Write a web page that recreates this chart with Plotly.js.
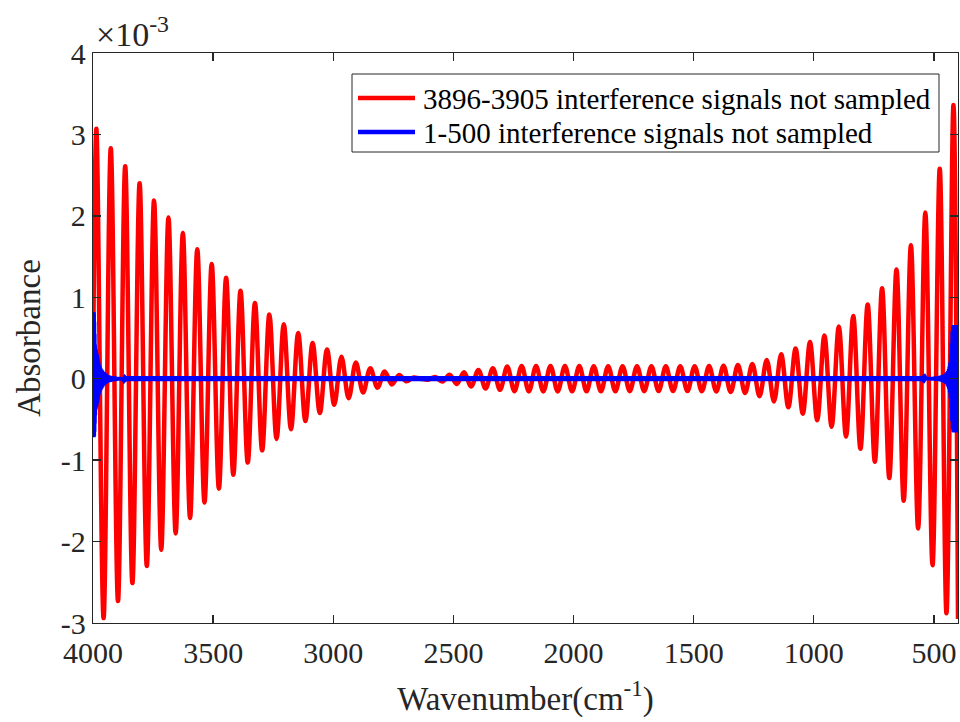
<!DOCTYPE html>
<html>
<head>
<meta charset="utf-8">
<script src="https://cdn.plot.ly/plotly-3.0.1.min.js"></script>
<style>html,body{margin:0;padding:0;background:#fff;}#chart{width:960px;height:722px;}</style>
</head>
<body>
<div id="chart"></div>
<script>
// Red series: extrema (wavenumber, absorbance x1e-3)
const redWavenumber = [4000, 3986, 3956, 3926, 3896, 3866, 3836, 3806, 3776, 3746, 3716, 3686, 3656, 3626, 3596, 3566, 3536, 3506, 3476, 3446, 3416, 3386, 3356, 3326, 3296, 3266, 3236, 3206, 3176, 3146, 3116, 3086, 3056, 3026, 2996, 2966, 2936, 2906, 2876, 2846, 2816, 2786, 2756, 2726, 2696, 2666, 2636, 2606, 2576, 2546, 2516, 2486, 2456, 2426, 2396, 2366, 2336, 2306, 2276, 2246, 2216, 2186, 2156, 2126, 2096, 2066, 2036, 2006, 1976, 1946, 1916, 1886, 1856, 1826, 1796, 1766, 1736, 1706, 1676, 1646, 1616, 1586, 1556, 1526, 1496, 1466, 1436, 1406, 1376, 1346, 1316, 1286, 1256, 1226, 1196, 1166, 1136, 1106, 1076, 1046, 1016, 986, 956, 926, 896, 866, 836, 806, 776, 746, 716, 686, 656, 626, 596, 566, 536, 506, 476, 448, 419, 400];
const redAbsorbance = [0.0, 3.07, -2.94, 2.83, -2.73, 2.61, -2.51, 2.40, -2.30, 2.19, -2.10, 1.98, -1.90, 1.79, -1.71, 1.59, -1.52, 1.41, -1.35, 1.24, -1.18, 1.08, -1.03, 0.93, -0.88, 0.79, -0.74, 0.67, -0.62, 0.56, -0.52, 0.44, -0.42, 0.36, -0.32, 0.27, -0.24, 0.20, -0.17, 0.13, -0.11, 0.09, -0.07, 0.045, -0.03, 0.015, 0.0, -0.012, 0.022, -0.035, 0.05, -0.065, 0.08, -0.095, 0.108, -0.12, 0.129, -0.137, 0.149, -0.153, 0.157, -0.157, 0.157, -0.157, 0.157, -0.156, 0.156, -0.155, 0.155, -0.155, 0.154, -0.154, 0.154, -0.154, 0.153, -0.153, 0.153, -0.153, 0.152, -0.152, 0.152, -0.152, 0.152, -0.152, 0.153, -0.154, 0.155, -0.157, 0.160, -0.164, 0.168, -0.175, 0.180, -0.215, 0.23, -0.28, 0.30, -0.35, 0.37, -0.43, 0.45, -0.51, 0.53, -0.59, 0.64, -0.71, 0.77, -0.86, 0.91, -1.02, 1.11, -1.22, 1.34, -1.50, 1.64, -1.84, 2.04, -2.29, 2.58, -2.88, 3.36, -2.95];

// Blue series: points (dense edge spikes, flat near zero elsewhere)
const blueWavenumber = [4000, 3999.3, 3998.6, 3997.9, 3997.2, 3996.5, 3995.8, 3995.1, 3994.4, 3993.7, 3993, 3992.3, 3991.6, 3990.9, 3990.2, 3989.5, 3988.5, 3987.5, 3986.5, 3985.5, 3984.5, 3983.5, 3982.5, 3981.5, 3980.5, 3979.5, 3978.5, 3977.5, 3976, 3974.5, 3973, 3971.5, 3970, 3968.5, 3967, 3965.5, 3964, 3962, 3960, 3958, 3956, 3954, 3952, 3950, 3948, 3946, 3944, 3942, 3940, 3937, 3934, 3931, 3928, 3925, 3922, 3919, 3916, 3913, 3910, 3907, 3904, 3901, 3898, 3895, 3892, 3889, 3886, 3883, 3880, 3877, 3874, 3871, 3868, 3865, 3860, 3850, 3700, 3000, 2000, 1000, 560, 550, 547, 544, 541, 538, 535, 532, 529, 526, 523, 520, 517, 514, 511, 508, 505, 502, 499, 496, 493, 490, 487, 484, 481, 478, 475, 472, 469, 466, 464, 462, 460, 458, 456, 454, 452, 450, 448, 446, 444, 442, 440.5, 439, 437.5, 436, 434.5, 433, 431.5, 430, 428.5, 427, 425.5, 424, 422.5, 421, 419.5, 418, 416.5, 415, 413.5, 412, 410.5, 409, 407.5, 406, 404.5, 403, 401.5, 400];
const blueAbsorbance = [0.82, -0.72, 0.80, -0.70, 0.70, -0.65, 0.55, -0.55, 0.42, -0.45, 0.38, -0.38, 0.36, -0.37, 0.35, -0.35, 0.32, -0.33, 0.30, -0.30, 0.27, -0.27, 0.24, -0.24, 0.21, -0.21, 0.18, -0.18, 0.16, -0.16, 0.14, -0.14, 0.125, -0.125, 0.11, -0.11, 0.10, -0.095, 0.085, -0.08, 0.075, -0.07, 0.065, -0.06, 0.055, -0.05, 0.045, -0.045, 0.04, -0.04, 0.035, -0.035, 0.03, -0.03, 0.027, -0.027, 0.024, -0.024, 0.021, -0.021, 0.018, -0.018, 0.016, -0.016, 0.014, -0.014, 0.012, -0.012, 0.010, -0.010, 0.008, -0.008, 0.006, -0.006, 0.004, 0.0, 0.0, 0.0, 0.0, 0.0, 0.0, 0.004, -0.004, 0.006, -0.006, 0.008, -0.008, 0.009, -0.009, 0.010, -0.010, 0.011, -0.011, 0.012, -0.012, 0.014, -0.014, 0.016, -0.016, 0.018, -0.018, 0.02, -0.02, 0.023, -0.023, 0.026, -0.026, 0.03, -0.03, 0.034, -0.034, 0.038, -0.038, 0.043, -0.043, 0.05, -0.05, 0.058, -0.058, 0.068, -0.068, 0.08, -0.085, 0.095, -0.105, 0.12, -0.13, 0.15, -0.17, 0.20, -0.24, 0.30, -0.36, 0.44, -0.52, 0.58, -0.62, 0.64, -0.65, 0.66, -0.66, 0.66, -0.66, 0.66, -0.66, 0.66, -0.66, 0.66, -0.66, 0.65, -0.65];

const seriesNames = ['3896-3905 interference signals not sampled', '1-500 interference signals not sampled'];
const seriesColors = ['#ff0000', '#0000ff'];
const xTickValues = [4000, 3500, 3000, 2500, 2000, 1500, 1000, 500];
const xTickLabels = ['4000', '3500', '3000', '2500', '2000', '1500', '1000', '500'];
const yTickValues = [-3, -2, -1, 0, 1, 2, 3, 4];
const yTickLabels = ['-3', '-2', '-1', '0', '1', '2', '3', '4'];

const FONT = 'Liberation Serif';
const AX = '#262626';
const W = 960, H = 722;
const M = {l: 93, r: 2, t: 53, b: 99};
const PW = W - M.l - M.r, PH = H - M.t - M.b;
// pixel -> paper helpers for the legend box
const px = v => (v - M.l) / PW;
const py = v => (H - M.b - v) / PH;

const traces = [
  {x: redWavenumber, y: redAbsorbance, type: 'scatter', mode: 'lines', name: seriesNames[0], showlegend: false,
   line: {color: seriesColors[0], width: 4.5, shape: 'spline', smoothing: 1}},
  {x: blueWavenumber, y: blueAbsorbance, type: 'scatter', mode: 'lines', name: seriesNames[1], showlegend: false,
   line: {color: seriesColors[1], width: 5.2, simplify: false}}
];

const axisCommon = {
  showgrid: false, zeroline: false, showline: true, linecolor: AX, linewidth: 1.3,
  mirror: 'ticks', ticks: 'inside', ticklen: 8, tickwidth: 1.3, tickcolor: AX,
  tickfont: {family: FONT, size: 30, color: AX}, tickmode: 'array'
};

// custom legend (box, line samples, texts)
const legendRows = [98, 132];
const shapes = [{
  type: 'rect', xref: 'paper', yref: 'paper', x0: px(352), x1: px(939), y0: py(152), y1: py(74),
  fillcolor: '#ffffff', line: {color: AX, width: 1}, layer: 'above'
}];
const annotations = [{
  xref: 'paper', yref: 'paper', x: 0, y: 1, xanchor: 'left', yanchor: 'bottom',
  yshift: -2, xshift: 1, showarrow: false,
  text: '\u00d710<sup>-3</sup>', font: {family: FONT, size: 34, color: AX}
}];
seriesNames.forEach((name, i) => {
  shapes.push({type: 'line', xref: 'paper', yref: 'paper', x0: px(358), x1: px(415),
    y0: py(legendRows[i]), y1: py(legendRows[i]), line: {color: seriesColors[i], width: 4.5}, layer: 'above'});
  annotations.push({xref: 'paper', yref: 'paper', x: px(421), y: py(legendRows[i] + 1), xanchor: 'left', yanchor: 'middle',
    showarrow: false, text: name, font: {family: FONT, size: 29, color: '#000000'}});
});

const layout = {
  width: W, height: H,
  margin: M,
  font: {family: FONT, size: 29, color: AX},
  paper_bgcolor: '#ffffff', plot_bgcolor: '#ffffff',
  showlegend: false,
  xaxis: Object.assign({}, axisCommon, {
    range: [4000, 400], autorange: false,
    tickvals: xTickValues, ticktext: xTickLabels, ticklabelstandoff: 3,
    title: {text: 'Wavenumber(cm<sup>-1</sup>)', font: {family: FONT, size: 33, color: AX}, standoff: 18}
  }),
  yaxis: Object.assign({}, axisCommon, {
    range: [-3, 4], autorange: false,
    tickvals: yTickValues, ticktext: yTickLabels,
    title: {text: 'Absorbance', font: {family: FONT, size: 33, color: AX}, standoff: 10}
  }),
  shapes: shapes,
  annotations: annotations
};

Plotly.newPlot('chart', traces, layout, {displayModeBar: false, staticPlot: true});
</script>
</body>
</html>
